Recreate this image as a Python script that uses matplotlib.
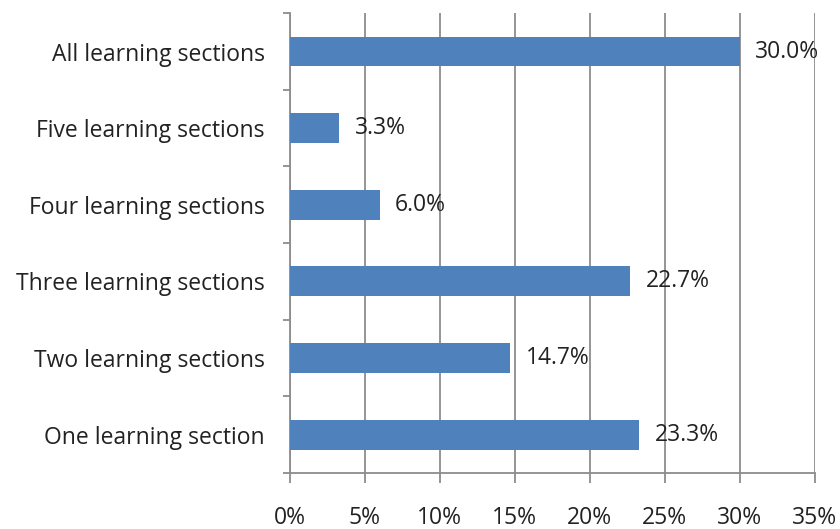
import matplotlib
matplotlib.use("Agg")
import matplotlib.pyplot as plt
from matplotlib.ticker import FixedLocator

categories = [
    "One learning section",
    "Two learning sections",
    "Three learning sections",
    "Four learning sections",
    "Five learning sections",
    "All learning sections",
]
values = [23.3, 14.7, 22.7, 6.0, 3.3, 30.0]
value_labels = ["23.3%", "14.7%", "22.7%", "6.0%", "3.3%", "30.0%"]
x_ticks = [0, 5, 10, 15, 20, 25, 30, 35]
x_tick_labels = ["0%", "5%", "10%", "15%", "20%", "25%", "30%", "35%"]

BAR_COLOR = "#4F81BD"
GRID_COLOR = "#8C8C8C"
TEXT_COLOR = "#222222"

plt.rcParams["font.family"] = ["Open Sans", "DejaVu Sans"]

fig = plt.figure(figsize=(8.4, 5.29), dpi=100)
ax = fig.add_axes([0.345, 0.106, 0.625, 0.869])

y = list(range(len(categories)))
ax.barh(y, values, height=0.39, color=BAR_COLOR, zorder=3)

for yi, v, lab in zip(y, values, value_labels):
    ax.annotate(lab, xy=(v, yi), xytext=(11, 0), textcoords="offset points",
                ha="left", va="center", fontsize=16.5, color=TEXT_COLOR, zorder=4)

ax.set_xlim(0, 35)
ax.set_ylim(-0.5, len(categories) - 0.5)
ax.set_xticks(x_ticks)
ax.set_xticklabels(x_tick_labels)
ax.set_yticks(y)
ax.set_yticklabels(categories)
ax.yaxis.set_minor_locator(FixedLocator([i - 0.5 for i in range(len(categories) + 1)]))

ax.grid(axis="x", color=GRID_COLOR, linewidth=1.3, zorder=0)
for side in ["top", "right"]:
    ax.spines[side].set_visible(False)
for side in ["left", "bottom"]:
    ax.spines[side].set_color(GRID_COLOR)
    ax.spines[side].set_linewidth(1.3)

ax.tick_params(axis="x", direction="out", length=7, width=1.3, color=GRID_COLOR,
               pad=17, labelsize=16.5, labelcolor=TEXT_COLOR)
ax.tick_params(axis="y", which="major", length=0, pad=18, labelsize=16.5,
               labelcolor=TEXT_COLOR)
ax.tick_params(axis="y", which="minor", direction="out", length=5, width=1.3,
               color=GRID_COLOR)

fig.savefig("out.png", dpi=100)
